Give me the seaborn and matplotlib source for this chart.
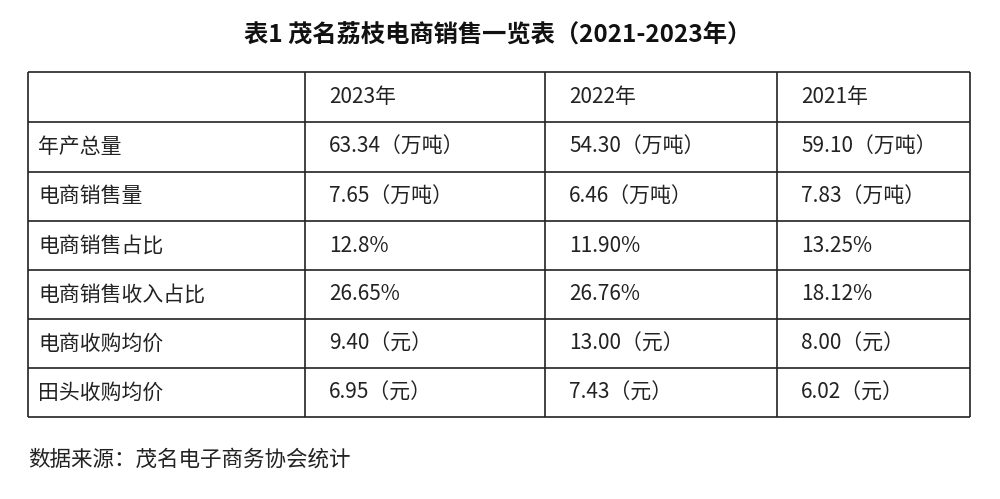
import matplotlib
matplotlib.use("Agg")
import matplotlib.pyplot as plt
import seaborn as sns

# 表格数据
years = ["2023年", "2022年", "2021年"]
row_names = ["年产总量", "电商销售量", "电商销售占比", "电商销售收入占比", "电商收购均价", "田头收购均价"]
col_2023 = ["63.34（万吨）", "7.65（万吨）", "12.8%", "26.65%", "9.40（元）", "6.95（元）"]
col_2022 = ["54.30（万吨）", "6.46（万吨）", "11.90%", "26.76%", "13.00（元）", "7.43（元）"]
col_2021 = ["59.10（万吨）", "7.83（万吨）", "13.25%", "18.12%", "8.00（元）", "6.02（元）"]
title = "表1 茂名荔枝电商销售一览表（2021-2023年）"
source = "数据来源：茂名电子商务协会统计"

sns.set_theme(style="white")
plt.rcParams['font.sans-serif'] = ['Noto Sans CJK SC']
plt.rcParams['axes.unicode_minus'] = False

fig = plt.figure(figsize=(10, 4.99), dpi=100)
ax = fig.add_axes([0, 0, 1, 1])
ax.set_xlim(0, 1000)
ax.set_ylim(499, 0)
ax.axis('off')

# 网格位置
col_x = [28, 305, 545, 777, 970]
row_y = [72, 122, 172, 221, 270, 319, 368, 417]
ax.hlines(row_y, col_x[0], col_x[-1], color='#222222', lw=1.2)
ax.vlines(col_x, row_y[0], row_y[-1], color='#222222', lw=1.2)

txt = dict(fontsize=15, color='#222222', va='center', ha='left')
for j, y in enumerate(years):
    ax.text(col_x[j + 1] + 24, (row_y[0] + row_y[1]) / 2, y, **txt)

cols = [row_names, col_2023, col_2022, col_2021]
for i in range(len(row_names)):
    yc = (row_y[i + 1] + row_y[i + 2]) / 2
    for j, c in enumerate(cols):
        pad = 10 if j == 0 else 24
        ax.text(col_x[j] + pad, yc, c[i], **txt)

ax.text(498, 36, title, fontsize=17.5, fontweight='bold', ha='center', va='center', color='#111111')
ax.text(28, 460, source, fontsize=15.5, ha='left', va='center', color='#222222')

fig.savefig('out.png', dpi=100, facecolor='white')
